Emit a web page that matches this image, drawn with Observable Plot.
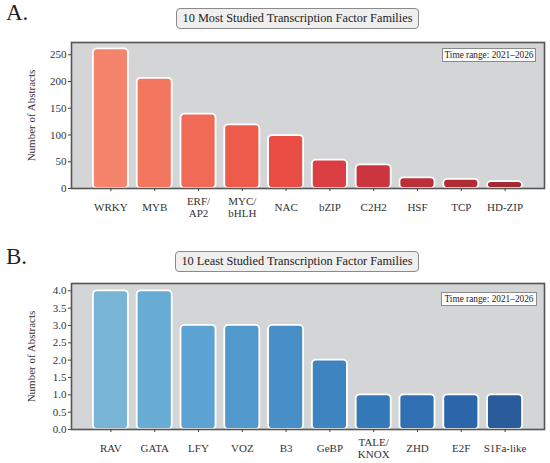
<!DOCTYPE html>
<html>
<head>
<meta charset="utf-8">
<script src="https://cdn.jsdelivr.net/npm/d3@7"></script>
<script src="https://cdn.jsdelivr.net/npm/@observablehq/plot@0.6"></script>
<style>
  html, body { margin:0; padding:0; background:#fff; }
  #wrap { position:relative; width:550px; height:463px; font-family:"Liberation Serif","Times New Roman",serif; color:#222; }
  #wrap svg { position:absolute; left:0; }
  .panel { position:absolute; font-size:23px; line-height:1; color:#222; }
  .title { position:absolute; box-sizing:border-box; border:1px solid #8a8a8a; border-radius:4px; background:#efefef;
           display:flex; align-items:center; justify-content:center; font-size:12.3px; color:#222; white-space:nowrap; }
  .range { position:absolute; box-sizing:border-box; border:1px solid #8a8a8a; background:#fff;
           display:flex; align-items:center; justify-content:center; font-size:9.3px; color:#222; white-space:nowrap; }
</style>
</head>
<body>
<div id="wrap"></div>
<script>
// ---- data ----
const mostFamilies = ["WRKY", "MYB", "ERF/AP2", "MYC/bHLH", "NAC", "bZIP", "C2H2", "HSF", "TCP", "HD-ZIP"];
const mostCounts   = [261, 206, 139, 119, 99, 53, 44, 20, 17, 13];
const leastFamilies = ["RAV", "GATA", "LFY", "VOZ", "B3", "GeBP", "TALE/KNOX", "ZHD", "E2F", "S1Fa-like"];
const leastCounts   = [4, 4, 3, 3, 3, 2, 1, 1, 1, 1];
const mostTicks  = [0, 50, 100, 150, 200, 250];
const leastTicks = [0, 0.5, 1, 1.5, 2, 2.5, 3, 3.5, 4];

// ---- palettes (styles) ----
const redPalette  = ["#f4846c","#f3775f","#f06a56","#ee5b4b","#e84c42","#db3f43","#cc353d","#bd2f38","#b02d36","#a22a33"];
const bluePalette = ["#78b4d6","#68acd6","#5ca2d2","#5299cb","#478fc6","#3e84c0","#357ab8","#3070b2","#2b66ab","#2a5c9b"];

function panel(families, counts, ticks, yMax, palette, fmt, height, mTop, mBottom) {
  const data = families.map((f, i) => ({family: f, count: counts[i]}));
  return Plot.plot({
    width: 550, height, marginTop: mTop, marginBottom: mBottom, marginLeft: 71, marginRight: 6,
    style: {fontFamily: '"Liberation Serif","Times New Roman",serif', fontSize: "11px", color: "#333", background: "transparent", overflow: "visible"},
    x: {type: "band", domain: families, paddingInner: 0.2, paddingOuter: 0.5, round: false},
    y: {domain: [0, yMax]},
    color: {type: "ordinal", domain: families, range: palette},
    marks: [
      Plot.frame({fill: "#d4d5d7"}),
      Plot.barY(data, {x: "family", y: "count", fill: "family", stroke: "white", strokeWidth: 1.8, rx: 4}),
      Plot.frame({stroke: "#555", strokeWidth: 1.6}),
      Plot.axisY({ticks, tickFormat: fmt, tickSize: 3, tickPadding: 2, stroke: "#444",
                  label: "Number of Abstracts", labelAnchor: "center", labelArrow: "none", labelOffset: 44}),
      Plot.axisX({tickSize: 3, tickPadding: 16, stroke: "#444", lineAnchor: "middle", lineHeight: 1.05,
                  tickFormat: d => d.replace("/", "/\n"), label: null})
    ]
  });
}

const wrap = document.getElementById("wrap");
const topChart = panel(mostFamilies, mostCounts, mostTicks, 273, redPalette, d => String(d), 231, 42, 43);
topChart.style.top = "0px";
wrap.appendChild(topChart);
const botChart = panel(leastFamilies, leastCounts, leastTicks, 4.21, bluePalette, d => d.toFixed(1), 232, 52, 34);
botChart.style.top = "231px";
wrap.appendChild(botChart);

function addDiv(cls, text, css) {
  const d = document.createElement("div");
  d.className = cls; d.textContent = text;
  Object.assign(d.style, css);
  wrap.appendChild(d);
}
addDiv("panel", "A.", {left: "6px", top: "1px"});
addDiv("panel", "B.", {left: "6px", top: "245px"});
addDiv("title", "10 Most Studied Transcription Factor Families", {left: "176px", top: "8px", width: "243px", height: "21px"});
addDiv("title", "10 Least Studied Transcription Factor Families", {left: "175px", top: "251px", width: "244px", height: "21px"});
addDiv("range", "Time range: 2021\u20132026", {left: "442px", top: "48px", width: "94px", height: "14px"});
addDiv("range", "Time range: 2021\u20132026", {left: "441px", top: "292px", width: "96px", height: "14px"});
</script>
</body>
</html>
